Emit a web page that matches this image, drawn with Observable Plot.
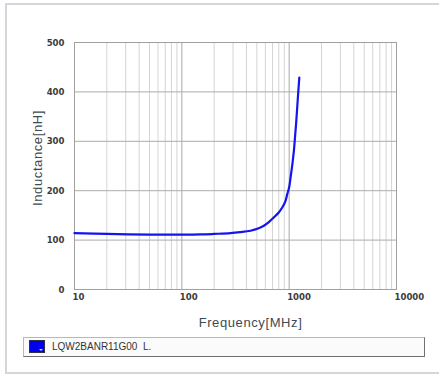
<!DOCTYPE html>
<html>
<head>
<meta charset="utf-8">
<script src="https://cdn.jsdelivr.net/npm/d3@7"></script>
<script src="https://cdn.jsdelivr.net/npm/@observablehq/plot@0.6"></script>
<style>
  html, body { margin: 0; padding: 0; background: #fff; }
  #wrap { position: relative; width: 439px; height: 374px; overflow: hidden; }
  #frame { position: absolute; left: 5px; top: 3px; width: 440px; height: 367px;
           border-top: 2px solid #d3d7db; border-left: 2px solid #d3d7db; border-bottom: 2px solid #d3d7db; }
  #chart { position: absolute; left: 0; top: 0; }
  #legend { position: absolute; left: 23px; top: 337px; width: 400px; height: 18px;
            border: 1px solid #b8b8b8; border-bottom-color: #707070; border-right-color: #707070; background: #fbfbfb;
            font-family: "Liberation Sans", Arial, sans-serif; font-size: 10px; color: #333; }
  #swatch { position: absolute; left: 5px; top: 2px; width: 14px; height: 11px; background: #0000f0;
            border: 1px solid #303040; }
  #swatch::after { content: ""; position: absolute; right: 1px; bottom: 1px; width: 0; height: 0;
            border-left: 2px solid transparent; border-right: 2px solid transparent; border-top: 2px solid #ccc; }
  #legtext { position: absolute; left: 28px; top: 3px; white-space: pre; }
</style>
</head>
<body>
<div id="wrap">
  <div id="frame"></div>
  <div id="chart"></div>
  <div id="legend"><div id="swatch"></div><div id="legtext"></div></div>
</div>
<script>
const seriesName = "LQW2BANR11G00  L.";
const freq   = [10, 20, 50, 100, 150, 200, 284, 350, 437, 520, 581, 650, 720, 800, 862, 920, 960, 1000, 1031, 1070, 1107, 1140, 1165, 1205, 1243];
const induct = [114, 112.5, 111, 111, 111.5, 112.5, 114, 116, 119, 124, 129, 137, 146, 156, 166, 178, 193, 207, 227, 253, 281, 315, 341, 388, 429];
const xTicks = [10, 100, 1000, 10000];
const yTicks = [0, 100, 200, 300, 400, 500];
const xLabel = "Frequency[MHz]";
const yLabel = "Inductance[nH]";

const data = freq.map((f, i) => ({f, L: induct[i]}));
const minor = [];
for (const dec of [10, 100, 1000]) for (let k = 2; k <= 9; k++) minor.push(dec * k);

const tickFont = `"DejaVu Sans", sans-serif`;
const labelFont = `"Liberation Sans", Arial, sans-serif`;

const plot = Plot.plot({
  width: 439,
  height: 330,
  marginLeft: 74,
  marginRight: 43,
  marginTop: 42,
  marginBottom: 41,
  style: { fontFamily: tickFont, fontSize: "9.5px", fontWeight: "bold", color: "#3c3c3c", background: "transparent", fontStretch: "condensed" },
  x: { type: "log", domain: [10, 10000] },
  y: { domain: [0, 500] },
  marks: [
    Plot.ruleX(minor, { stroke: "#d4d4d4", strokeWidth: 1 }),
    Plot.ruleX(xTicks, { stroke: "#a8a8a8", strokeWidth: 1 }),
    Plot.ruleY(yTicks, { stroke: "#acacac", strokeWidth: 1 }),
    Plot.frame({ stroke: "#a0a0a0" }),
    Plot.axisX({ ticks: xTicks, tickSize: 0, tickPadding: 4, textAnchor: "start", dx: -2, tickFormat: d => String(d), label: null }),
    Plot.axisY({ ticks: yTicks, tickSize: 0, tickPadding: 9, dx: -1, tickFormat: d => String(d), label: null }),
    Plot.line(data, { x: "f", y: "L", stroke: "#1414f0", strokeWidth: 2.2, curve: "catmull-rom" }),
    Plot.text([xLabel], { frameAnchor: "bottom", textAnchor: "middle", lineAnchor: "middle", dx: 15, dy: 33, fontSize: 13, fontWeight: "normal",
      fontFamily: labelFont, fill: "#3e4a52" }),
    Plot.text([yLabel], { frameAnchor: "left", textAnchor: "middle", lineAnchor: "middle", rotate: -90, dx: -37, dy: -8, fontSize: 13, fontWeight: "normal",
      fontFamily: labelFont, fill: "#3e4a52" })
  ]
});
document.getElementById("chart").appendChild(plot);
d3.select(plot).selectAll("text").filter(function () { return this.textContent === xLabel || this.textContent === yLabel; })
  .style("letter-spacing", "0.6px").style("font-stretch", "normal");
document.getElementById("legtext").textContent = seriesName;
</script>
</body>
</html>
